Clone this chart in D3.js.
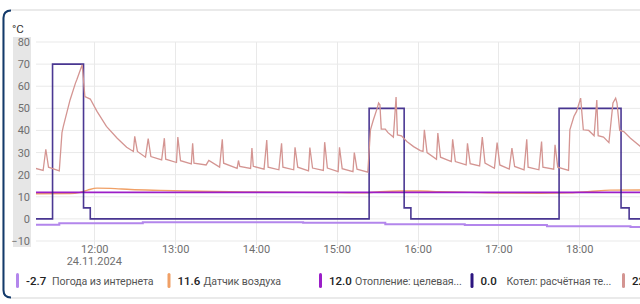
<!DOCTYPE html>
<html>
<head>
<meta charset="utf-8">
<script src="https://cdn.jsdelivr.net/npm/d3@7"></script>
<style>
  body { margin: 0; background: #fff; font-family: Roboto, "Noto Sans", sans-serif; }
  svg { display: block; }
</style>
</head>
<body>
<svg id="chart"></svg>
<script>
// y ticks
var yTicks = [-10, 0, 10, 20, 30, 40, 50, 60, 70, 80];
var xTickTimes = ["12:00", "13:00", "14:00", "15:00", "16:00", "17:00", "18:00"];

// Погода из интернета (step)
var weatherTimes = ["11:16", "11:34", "12:36", "14:35", "15:36", "16:35", "17:36", "18:38", "18:46"];
var weatherValues = [-2.7, -2.0, -1.5, -1.8, -2.4, -2.8, -3.3, -3.7, -3.7];

// Датчик воздуха
var airTimes = ["11:16", "11:42", "11:49", "11:55", "12:02", "12:12", "12:27", "12:49", "13:18", "13:55", "14:33", "15:02", "15:20", "15:32", "15:47", "16:02", "16:16", "16:39", "17:01", "17:31", "17:53", "18:08", "18:23", "18:46"];
var airValues = [11.4, 11.5, 11.9, 13.0, 13.9, 13.8, 13.3, 12.9, 12.5, 12.2, 12.0, 11.9, 11.8, 12.3, 12.6, 12.6, 12.3, 12.0, 11.7, 11.6, 11.8, 12.4, 13.0, 13.1];

// Отопление: целевая температура
var targetTimes = ["11:16", "18:46"];
var targetValues = [12.0, 12.0];

// Котел: расчётная температура (step)
var calcTimes = ["11:16", "11:29", "11:52", "11:57", "15:24", "15:50", "15:55", "17:45", "18:31", "18:37", "18:46"];
var calcValues = [0, 70, 5, 0, 50, 5, 0, 50, 5, 0, 0];

// Котел: температура теплоносителя
var flowTimes = ["11:16", "11:22", "11:24", "11:26", "11:34", "11:36", "11:37", "11:42", "11:46", "11:47", "11:51", "11:53", "11:57",
  "12:02", "12:09", "12:17", "12:24", "12:29", "12:30", "12:32", "12:38", "12:40", "12:42", "12:50", "12:52", "12:53",
  "13:01", "13:02", "13:04", "13:12", "13:13", "13:14", "13:23", "13:25", "13:33", "13:35", "13:36", "13:46", "13:47", "13:48", "13:56", "13:57", "13:58",
  "14:06", "14:08", "14:09", "14:17", "14:19", "14:20", "14:28", "14:29", "14:31", "14:39", "14:40", "14:42", "14:50", "14:51", "14:53",
  "15:01", "15:02", "15:04", "15:12", "15:13", "15:15", "15:23", "15:25", "15:27", "15:30", "15:31", "15:32", "15:33", "15:36", "15:38", "15:42", "15:44", "15:45", "15:48", "15:52", "15:57",
  "16:02", "16:04", "16:05", "16:07", "16:14", "16:15", "16:17", "16:25", "16:26", "16:28", "16:36", "16:37", "16:39", "16:46", "16:48", "16:50", "16:57", "16:59",
  "17:01", "17:08", "17:10", "17:12", "17:19", "17:21", "17:22", "17:30", "17:32", "17:33", "17:41", "17:42", "17:44", "17:52", "17:53", "17:56", "17:58",
  "18:01", "18:03", "18:07", "18:11", "18:13", "18:14", "18:18", "18:22", "18:25", "18:27", "18:28", "18:30", "18:33", "18:38", "18:46"];
var flowValues = [22.9, 21.9, 31.5, 23.4, 21.7, 39, 41.8, 53.8, 61.4, 62.9, 69.7, 55.3, 54.2,
  48.6, 41.8, 36.5, 32.4, 30.5, 37.3, 30.5, 27.9, 36.3, 28.2, 26.7, 36.5, 27,
  25.5, 37, 26.3, 24.9, 34.2, 25.2, 24.4, 26.4, 23.4, 36, 25.2, 22.9, 26.4, 23.7, 22.8, 32, 23.8,
  22.5, 35.7, 23.4, 22.2, 34.2, 23.4, 22.2, 32.4, 23.4, 21.7, 32.3, 23, 21.9, 34.7, 23,
  21.4, 32.4, 22.7, 21.4, 30, 22.5, 21.1, 40.3, 44.5, 50.1, 52.4, 51.6, 40.6, 40.6, 39, 37, 55.1, 38, 37.6, 35, 32.7,
  30.9, 30.5, 40.3, 30, 27, 38.8, 27.9, 25.9, 36, 25.9, 24.4, 34.2, 25, 24, 37, 25.2, 22.9, 34.5,
  24.4, 22.5, 32, 23.7, 22.2, 36, 23.4, 22.2, 35, 23.4, 22.5, 33.5, 23.4, 21.9, 40.3, 46.3, 48.6,
  54.6, 40.3, 40, 37.6, 53.8, 37.6, 37, 34.5, 52.4, 54.6, 52.4, 40, 39.5, 36.5, 32.4];

var legendNames = ["Погода из интернета", "Датчик воздуха", "Отопление: целевая температура", "Котел: расчётная температура", "Котел: температура теплоносителя"];
var legendValues = ["-2.7", "11.6", "12.0", "0.0", "22.1"];
var colors = ["#b386ec", "#f0a066", "#9b1ec8", "#2c1580", "#d49592"];

var W = 640, H = 304;
var plot = {left: 36, right: 640, top: 42, bottom: 241};

var parseT = d3.timeParse("%Y-%m-%d %H:%M:%S");
function T(s) { return parseT("2024-11-24 " + (s.length == 5 ? s + ":00" : s)); }

function pairs(times, values) {
  return times.map(function (t, i) { return {t: T(t), v: values[i]}; });
}

var svg = d3.select("#chart").attr("width", W).attr("height", H);

// card
svg.append("rect")
  .attr("x", 3).attr("y", 10).attr("width", W + 20).attr("height", 288)
  .attr("rx", 8)
  .attr("fill", "#fff").attr("stroke", "#e3e3e3").attr("stroke-width", 1.5);
svg.append("path")
  .attr("d", "M11,10.5 Q3.5,10.5 3.5,18 L3.5,290 Q3.5,297.5 11,297.5")
  .attr("fill", "none").attr("stroke", "#133a6b").attr("stroke-width", 2);

var x = d3.scaleTime()
  .domain([T("11:16:43"), T("18:45:04")])
  .range([plot.left, plot.right]);
var y = d3.scaleLinear()
  .domain([-10, 80])
  .range([plot.bottom, plot.top]);

// grey band behind y labels
svg.append("rect")
  .attr("x", 13).attr("y", 37).attr("width", 18).attr("height", 210)
  .attr("fill", "#e6e6e6");

// grid
svg.append("g")
  .selectAll("line")
  .data(yTicks)
  .enter().append("line")
    .attr("x1", plot.left).attr("x2", plot.right)
    .attr("y1", d => y(d)).attr("y2", d => y(d))
    .attr("stroke", "#e9e9e9").attr("stroke-width", 1);

svg.append("g")
  .selectAll("line")
  .data(xTickTimes)
  .enter().append("line")
    .attr("x1", d => Math.round(x(T(d))) + 0.5).attr("x2", d => Math.round(x(T(d))) + 0.5)
    .attr("y1", plot.top).attr("y2", plot.bottom + 5)
    .attr("stroke", "#e9e9e9").attr("stroke-width", 1);

// y axis labels
var yAxis = svg.append("g")
  .attr("transform", "translate(30,0)")
  .call(d3.axisLeft(y).tickValues(yTicks).tickSize(0).tickPadding(0));
yAxis.select(".domain").remove();
yAxis.selectAll("text")
  .attr("fill", "#6f6f6f")
  .style("font-size", "11px")
  .style("font-family", "Roboto, sans-serif");

svg.append("text")
  .attr("x", 12).attr("y", 33)
  .attr("fill", "#333")
  .style("font-size", "11.5px")
  .text("°C");

// x axis labels
var xAxis = svg.append("g")
  .attr("transform", "translate(0," + (plot.bottom + 4) + ")")
  .call(d3.axisBottom(x).tickValues(xTickTimes.map(T)).tickFormat(d3.timeFormat("%H:%M")).tickSize(0).tickPadding(0));
xAxis.select(".domain").remove();
xAxis.selectAll("text")
  .attr("fill", "#6f6f6f")
  .attr("dy", "0.71em")
  .style("font-size", "11px")
  .style("font-family", "Roboto, sans-serif");
svg.append("text")
  .attr("x", x(T("12:00")))
  .attr("y", 265)
  .attr("text-anchor", "middle")
  .attr("fill", "#6f6f6f")
  .style("font-size", "11px")
  .text("24.11.2024");

// lines
svg.append("clipPath").attr("id", "clip")
  .append("rect").attr("x", plot.left).attr("y", 0).attr("width", plot.right - plot.left).attr("height", 260);

var g = svg.append("g").attr("clip-path", "url(#clip)");

var stepLine = d3.line().curve(d3.curveStepAfter).x(d => x(d.t)).y(d => y(d.v));
var smoothLine = d3.line().curve(d3.curveMonotoneX).x(d => x(d.t)).y(d => y(d.v));
var plainLine = d3.line().x(d => x(d.t)).y(d => y(d.v));

g.append("path").datum(pairs(weatherTimes, weatherValues))
  .attr("d", stepLine).attr("fill", "none").attr("stroke", colors[0]).attr("stroke-width", 2);
g.append("path").datum(pairs(airTimes, airValues))
  .attr("d", smoothLine).attr("fill", "none").attr("stroke", colors[1]).attr("stroke-width", 1.4);
g.append("path").datum(pairs(targetTimes, targetValues))
  .attr("d", plainLine).attr("fill", "none").attr("stroke", colors[2]).attr("stroke-width", 1.6);
g.append("path").datum(pairs(calcTimes, calcValues))
  .attr("d", stepLine).attr("fill", "none").attr("stroke", colors[3]).attr("stroke-width", 1.6).attr("stroke-opacity", 0.85);
g.append("path").datum(pairs(flowTimes, flowValues))
  .attr("d", plainLine).attr("fill", "none").attr("stroke", colors[4]).attr("stroke-width", 1.3);

// legend
var legend = svg.append("g").selectAll("g")
  .data(legendNames)
  .enter().append("g")
    .attr("transform", (d, i) => "translate(" + (16 + i * 151.5) + ",280)");
legend.append("rect")
  .attr("x", 0).attr("y", -7).attr("width", 3).attr("height", 15).attr("rx", 1.5)
  .attr("fill", (d, i) => colors[i]);
legend.append("text")
  .attr("x", 10).attr("y", 4.5)
  .attr("fill", "#222")
  .style("font-size", "11.5px")
  .style("font-weight", 500)
  .text((d, i) => legendValues[i]);
legend.append("text")
  .attr("x", 36)
  .attr("y", 4.5)
  .attr("fill", "#555")
  .style("font-size", "10.6px")
  .style("letter-spacing", "-0.1px")
  .text(d => d)
  .each(function (d) {
    // shorten long names with an ellipsis like the card does
    var el = d3.select(this), s = d;
    var maxW = 110;
    if (this.getComputedTextLength() <= maxW) return;
    while (s.length > 1) {
      s = s.slice(0, -1);
      el.text(s.trimEnd() + "...");
      if (this.getComputedTextLength() <= maxW) break;
    }
  });
</script>
</body>
</html>
